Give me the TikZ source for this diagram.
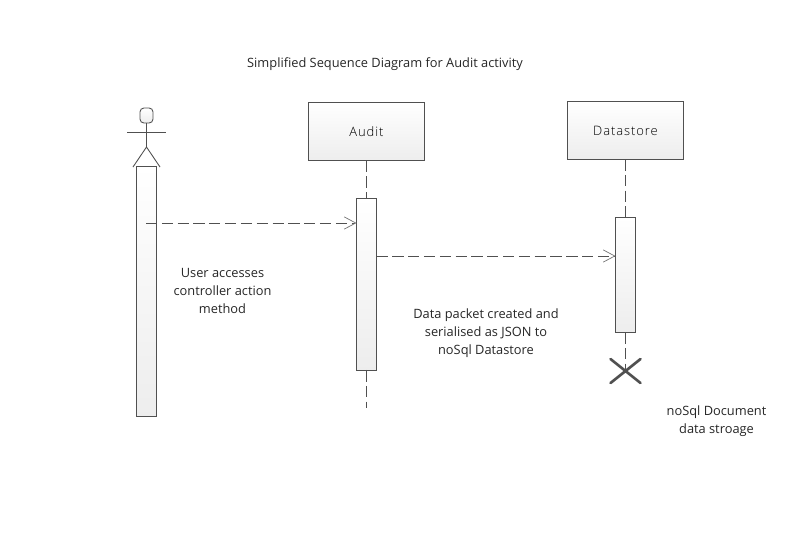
\documentclass[tikz,border=0pt]{standalone}
\usepackage{fontspec}
\setmainfont{Open Sans}
\newfontfamily\boxfont[LetterSpace=7]{Open Sans Light}
\usetikzlibrary{positioning,arrows.meta,shapes.misc}
\definecolor{umlgray}{HTML}{505050}
\tikzset{
  lifebox/.style={draw=umlgray,line width=0.55pt,top color=white,bottom color=black!7,
    minimum width=2.32cm,minimum height=1.16cm,inner sep=0pt,outer sep=0pt,
    text height=6pt,text depth=0.6pt,font=\boxfont\fontsize{7.4}{9}\selectfont},
  actbar/.style={draw=umlgray,line width=0.55pt,top color=white,bottom color=black!7,
    minimum width=0.4cm,inner sep=0pt,outer sep=0pt},
  lifeln/.style={draw=umlgray,line width=0.55pt,dash pattern=on 6.6pt off 2.4pt},
  msg/.style={draw=umlgray,line width=0.55pt,dash pattern=on 6.4pt off 2.6pt,
    -{Straight Barb[length=6.6pt,width=7pt,line width=0.4pt,color=umlgray!80]}},
  stopx/.style={cross out,draw=umlgray,line width=1.5pt,line cap=round,
    minimum width=0.6cm,minimum height=0.48cm,inner sep=0pt,outer sep=0pt},
  lbl/.style={align=center,text=black!85,font=\fontsize{7.3}{10.2}\selectfont},
  stick/.style={draw=umlgray,line width=0.5pt},
}
\begin{document}
\begin{tikzpicture}[x=0.02cm,y=-0.02cm]
  \useasboundingbox (0,0) rectangle (794,559);
  \node[lbl] (title) at (385,64) {Simplified Sequence Diagram for Audit activity};
  % actor
  \node[draw=umlgray,line width=0.5pt,rounded corners=2.2pt,top color=white,bottom color=black!7,
    minimum width=0.26cm,minimum height=0.3cm,inner sep=0pt,outer sep=0pt] (head) at (146.5,115.5) {};
  \coordinate (armL) at (127,132);
  \coordinate (armR) at (166,132);
  \coordinate (hip) at (146.5,147);
  \coordinate (legL) at (133,167);
  \coordinate (legR) at (160,167);
  \draw[stick] (armL) -- (armR);
  \draw[stick] (head.south) -- (hip);
  \draw[stick] (legL) -- (hip) -- (legR);
  \node[actbar,minimum height=5cm] (userbar) at (146.5,291) {};
  % lifelines
  \node[lifebox] (audit) at (366.5,131.5) {Audit};
  \node[lifebox,text height=6.6pt,text depth=0pt] (store) at (625.5,130) {Datastore};
  \node[actbar,minimum height=3.44cm] (auditbar) at (366.5,284) {};
  \node[actbar,minimum height=2.3cm] (storebar) at (625.5,274.5) {};
  \node[stopx] (storeend) at (625.5,371) {};
  \coordinate (auditend) at (366.5,408);
  \draw[lifeln] (audit.south) -- (auditbar.north);
  \draw[lifeln] (auditbar.south) -- (auditend);
  \draw[lifeln] (store.south) -- (storebar.north);
  \draw[lifeln] (storebar.south) -- (storeend.center);
  % messages
  \coordinate (msgA) at (146,223);
  \coordinate (msgB) at (auditbar.east |- 0,256);
  \draw[msg] (msgA) -- (auditbar.west |- msgA);
  \draw[msg] (msgB) -- (storebar.west |- msgB);
  \node[lbl] (userlbl) at (222.5,291) {User accesses\\controller action\\method};
  \node[lbl] (datalbl) at (486,333) {Data packet created and\\serialised as JSON to\\noSql Datastore};
  \node[lbl] (storelbl) at (716.5,421.5) {noSql Document\\data stroage};
\end{tikzpicture}
\end{document}
